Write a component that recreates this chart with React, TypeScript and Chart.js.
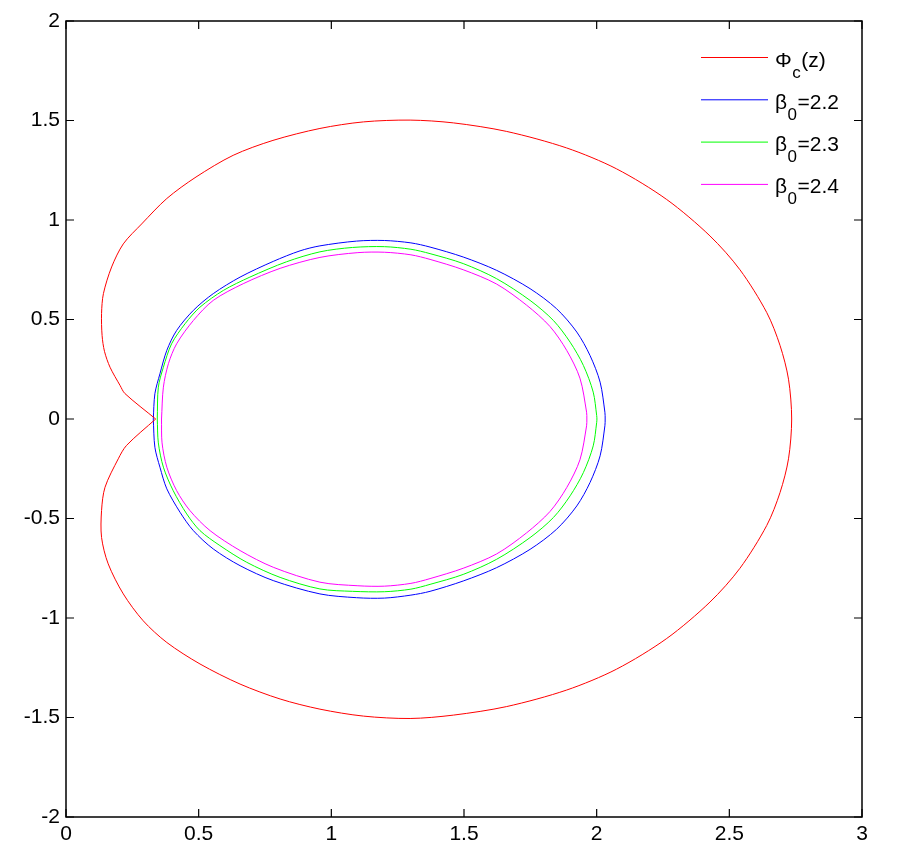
import React, { useEffect, useRef } from "react";
import { Chart, registerables } from "chart.js";

Chart.register(...registerables);

// ---- data ----
const xTicks = [0, 0.5, 1, 1.5, 2, 2.5, 3];
const yTicks = [-2, -1.5, -1, -0.5, 0, 0.5, 1, 1.5, 2];

const seriesNames = ["Φc(z)", "β0=2.2", "β0=2.3", "β0=2.4"];
const legendBase = ["Φ", "β", "β", "β"];
const legendSub = ["c", "0", "0", "0"];
const legendRest = ["(z)", "=2.2", "=2.3", "=2.4"];
const seriesColors = ["#ff0000", "#0000ff", "#00ff00", "#ff00ff"];

const redX = [
  0.338, 0.222, 0.204, 0.166, 0.145, 0.136, 0.134, 0.141, 0.172, 0.216, 0.285, 0.38, 0.49, 0.63, 0.78, 0.957,
  1.121, 1.297, 1.46, 1.661, 1.887, 2.075, 2.264, 2.427, 2.54, 2.641, 2.691, 2.723, 2.735,
  2.723, 2.691, 2.641, 2.54, 2.427, 2.264, 2.075, 1.887, 1.661, 1.46, 1.297, 1.121, 0.957, 0.807, 0.656,
  0.505, 0.38, 0.291, 0.216, 0.159, 0.134, 0.134, 0.147, 0.197, 0.228, 0.338,
];
const redY = [
  0.0, 0.128, 0.168, 0.26, 0.34, 0.42, 0.53, 0.63, 0.764, 0.88, 0.98, 1.108, 1.216, 1.325, 1.4, 1.46,
  1.493, 1.502, 1.488, 1.445, 1.362, 1.257, 1.103, 0.92, 0.75, 0.535, 0.37, 0.2, 0.0,
  -0.2, -0.37, -0.535, -0.75, -0.92, -1.103, -1.257, -1.362, -1.445, -1.488, -1.505, -1.493, -1.458, -1.407, -1.332,
  -1.231, -1.123, -1.014, -0.879, -0.728, -0.595, -0.46, -0.343, -0.2, -0.133, 0.0,
];

const blueX = [
  0.329, 0.335, 0.354, 0.38, 0.417, 0.48, 0.555, 0.656, 0.781, 0.882, 0.957, 1.095, 1.2, 1.3, 1.372,
  1.497, 1.623, 1.749, 1.849, 1.925, 1.975, 2.013, 2.031, 2.032,
  2.031, 2.013, 1.975, 1.925, 1.849, 1.749, 1.623, 1.497, 1.372, 1.3, 1.2, 1.095, 0.957, 0.781,
  0.656, 0.555, 0.48, 0.43, 0.38, 0.354, 0.335, 0.329,
];
const blueY = [
  0.0, 0.127, 0.227, 0.345, 0.445, 0.546, 0.63, 0.713, 0.792, 0.845, 0.87, 0.894, 0.897, 0.885, 0.864,
  0.814, 0.747, 0.655, 0.554, 0.437, 0.319, 0.185, 0.034, 0.0,
  -0.034, -0.185, -0.319, -0.437, -0.554, -0.655, -0.747, -0.814, -0.866, -0.885, -0.9, -0.898, -0.879, -0.812,
  -0.737, -0.653, -0.561, -0.469, -0.351, -0.242, -0.142, 0.0,
];

const greenX = [
  0.344, 0.348, 0.367, 0.398, 0.449, 0.505, 0.593, 0.693, 0.831, 0.957, 1.08, 1.2, 1.3, 1.372, 1.497,
  1.623, 1.749, 1.837, 1.9, 1.95, 1.987, 2.0, 2.001,
  2.0, 1.987, 1.95, 1.9, 1.837, 1.749, 1.623, 1.497, 1.372, 1.3, 1.2, 1.08, 0.957, 0.807, 0.681, 0.58,
  0.505, 0.455, 0.404, 0.367, 0.348, 0.344,
];
const greenY = [
  0.0, 0.16, 0.26, 0.378, 0.479, 0.562, 0.646, 0.713, 0.79, 0.84, 0.862, 0.866, 0.853, 0.831, 0.781,
  0.705, 0.596, 0.495, 0.386, 0.269, 0.135, 0.018, 0.0,
  -0.018, -0.135, -0.269, -0.386, -0.495, -0.596, -0.705, -0.781, -0.831, -0.855, -0.868, -0.866, -0.854, -0.796, -0.72, -0.636,
  -0.561, -0.477, -0.36, -0.242, -0.12, 0.0,
];

const magentaX = [
  0.36, 0.367, 0.386, 0.417, 0.48, 0.555, 0.668, 0.807, 0.957, 1.1, 1.2, 1.3, 1.372, 1.497, 1.623,
  1.736, 1.824, 1.887, 1.937, 1.962, 1.963,
  1.962, 1.937, 1.887, 1.824, 1.736, 1.623, 1.497, 1.372, 1.3, 1.2, 1.1, 0.957, 0.781, 0.656, 0.543,
  0.467, 0.417, 0.38, 0.362, 0.36,
];
const magentaY = [
  0.0, 0.16, 0.278, 0.378, 0.495, 0.596, 0.68, 0.757, 0.812, 0.836, 0.838, 0.825, 0.802, 0.75, 0.678,
  0.572, 0.465, 0.345, 0.205, 0.034, 0.0,
  -0.034, -0.205, -0.345, -0.465, -0.572, -0.678, -0.75, -0.802, -0.826, -0.84, -0.838, -0.82, -0.745, -0.661, -0.561,
  -0.46, -0.36, -0.242, -0.12, 0.0,
];

const seriesX = [redX, blueX, greenX, magentaX];
const seriesY = [redY, blueY, greenY, magentaY];

const FONT = "'Liberation Sans', Arial, sans-serif";

const framePlugin = {
  id: "matlabFrame",
  afterDatasetsDraw(chart: any) {
    const { ctx, chartArea: a, scales } = chart;
    const len = 8;
    ctx.save();
    ctx.strokeStyle = "#000";
    ctx.lineWidth = 1.5;
    ctx.strokeRect(a.left, a.top, a.right - a.left, a.bottom - a.top);
    ctx.lineWidth = 1.2;
    ctx.beginPath();
    xTicks.forEach((v) => {
      const p = scales.x.getPixelForValue(v);
      ctx.moveTo(p, a.bottom);
      ctx.lineTo(p, a.bottom - len);
      ctx.moveTo(p, a.top);
      ctx.lineTo(p, a.top + len);
    });
    yTicks.forEach((v) => {
      const p = scales.y.getPixelForValue(v);
      ctx.moveTo(a.left, p);
      ctx.lineTo(a.left + len, p);
      ctx.moveTo(a.right, p);
      ctx.lineTo(a.right - len, p);
    });
    ctx.stroke();
    ctx.restore();
  },
};

const legendPlugin = {
  id: "subLegend",
  afterDraw(chart: any) {
    const { ctx } = chart;
    const x0 = 701;
    const x1 = 768;
    const tx = 775;
    const y0 = 57.5;
    const dy = 42.3;
    ctx.save();
    chart.data.datasets.forEach((ds: any, i: number) => {
      const y = y0 + i * dy;
      ctx.strokeStyle = ds.borderColor;
      ctx.lineWidth = 1;
      ctx.beginPath();
      ctx.moveTo(x0, y);
      ctx.lineTo(x1, y);
      ctx.stroke();
      ctx.fillStyle = "#000";
      ctx.textBaseline = "alphabetic";
      ctx.textAlign = "left";
      const base = y + 9;
      ctx.font = `21px ${FONT}`;
      let cx = tx;
      ctx.fillText(legendBase[i], cx, base);
      cx += ctx.measureText(legendBase[i]).width + 0.5;
      ctx.font = `17px ${FONT}`;
      ctx.fillText(legendSub[i], cx, base + 11);
      cx += ctx.measureText(legendSub[i]).width + 0.5;
      ctx.font = `21px ${FONT}`;
      ctx.fillText(legendRest[i], cx, base);
    });
    ctx.restore();
  },
};

export default function App() {
  const ref = useRef<HTMLCanvasElement | null>(null);
  useEffect(() => {
    if (!ref.current) return;
    const datasets = seriesNames.map((name, i) => ({
      label: name,
      data: seriesX[i].map((x, j) => ({ x, y: seriesY[i][j] })),
      borderColor: seriesColors[i],
      backgroundColor: seriesColors[i],
      borderWidth: 1,
      showLine: true,
      pointRadius: 0,
      fill: false,
      tension: 0.3,
    }));
    const chart = new Chart(ref.current, {
      type: "scatter",
      data: { datasets },
      options: {
        animation: false,
        responsive: false,
        maintainAspectRatio: false,
        layout: { padding: { left: 0, top: 21, right: 37, bottom: 0 } },
        plugins: { legend: { display: false }, tooltip: { enabled: false } },
        scales: {
          x: {
            type: "linear",
            min: 0,
            max: 3,
            afterBuildTicks: (s: any) => {
              s.ticks = xTicks.map((v) => ({ value: v }));
            },
            afterFit: (s: any) => {
              s.height = 49;
            },
            grid: { display: false, drawTicks: false },
            border: { display: false },
            ticks: {
              color: "#000",
              padding: 5,
              font: { family: FONT, size: 21 },
              maxRotation: 0,
              callback: (v: any) => String(v),
            },
          },
          y: {
            type: "linear",
            min: -2,
            max: 2,
            afterBuildTicks: (s: any) => {
              s.ticks = yTicks.map((v) => ({ value: v }));
            },
            afterFit: (s: any) => {
              s.width = 66;
            },
            grid: { display: false, drawTicks: false },
            border: { display: false },
            ticks: {
              color: "#000",
              padding: 6,
              font: { family: FONT, size: 21 },
              callback: (v: any) => String(v),
            },
          },
        },
      },
      plugins: [framePlugin, legendPlugin],
    });
    return () => chart.destroy();
  }, []);
  return (
    <div style={{ position: "absolute", left: 0, top: 0, width: 899, height: 866, background: "#fff" }}>
      <canvas ref={ref} width={899} height={866} style={{ width: 899, height: 866, display: "block" }} />
    </div>
  );
}
